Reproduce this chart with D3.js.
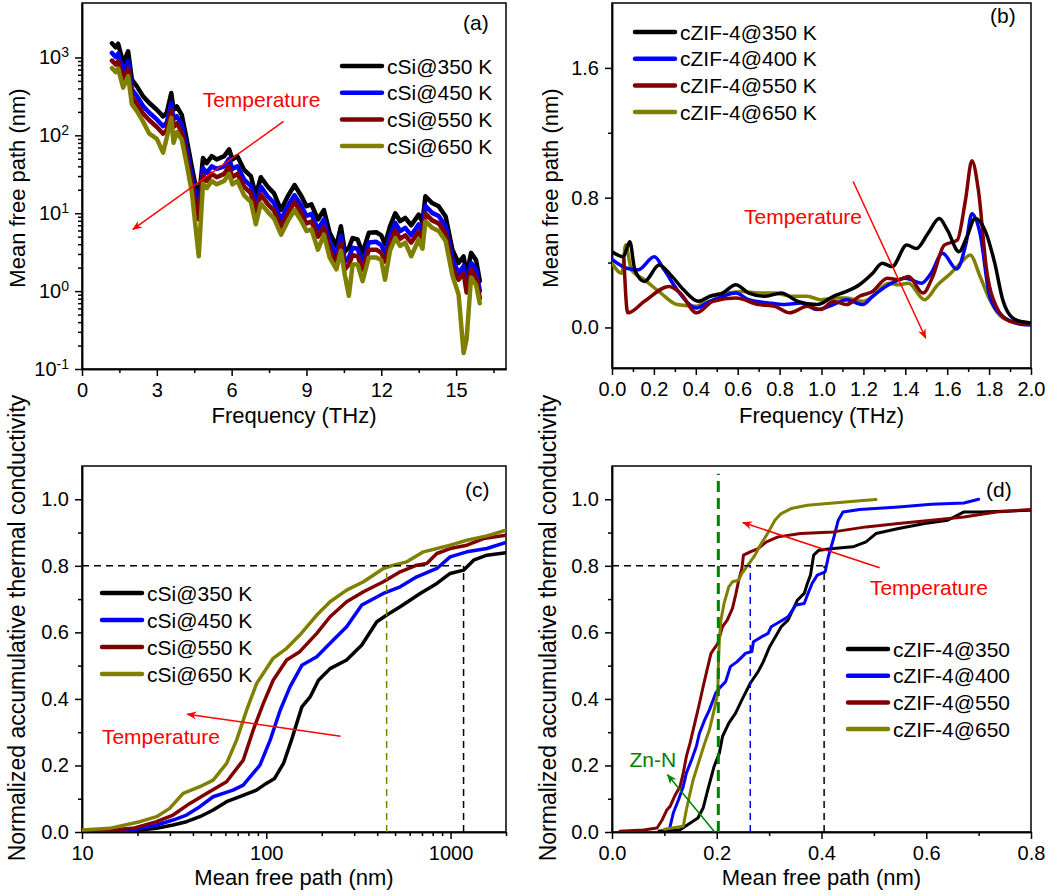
<!DOCTYPE html>
<html>
<head>
<meta charset="utf-8">
<script src="https://cdnjs.cloudflare.com/ajax/libs/d3/7.8.5/d3.min.js"></script>
<style>
  body { margin: 0; background: #fff; }
  svg { display: block; font-family: "Liberation Sans", Arial, sans-serif; }
  .axis path, .axis line { stroke: #000; stroke-width: 1.5; }
  .axis text { font-size: 20px; fill: #000; font-family: "Liberation Sans", Arial, sans-serif; }
  .title { font-size: 22px; fill: #000; }
  .legend text { font-size: 21px; fill: #000; }
  .plabel { font-size: 21px; fill: #000; }
</style>
</head>
<body>
<svg id="chart" width="1064" height="896"></svg>
<script>
// ---- (a) cSi mean free path vs frequency
const freqSi = [1.2, 1.35, 1.45, 1.65, 1.85, 2.0, 2.2, 2.45, 2.7, 3.0,
  3.25, 3.4, 3.58, 3.67, 3.8, 4.0, 4.2, 4.4, 4.68, 4.85,
  5.0, 5.2, 5.4, 5.7, 5.9, 6.03, 6.23, 6.5, 6.77, 6.97,
  7.17, 7.44, 7.7, 7.98, 8.25, 8.52, 8.8, 9.0, 9.2, 9.46,
  9.7, 9.93, 10.2, 10.38, 10.54, 10.7, 10.85, 11.05, 11.25, 11.5,
  11.8, 12.0, 12.15, 12.35, 12.56, 12.76, 12.96, 13.2, 13.5, 13.65,
  13.77, 14.04, 14.3, 14.58, 14.85, 15.1, 15.3, 15.42, 15.6, 15.8, 15.95];
const mfpSi350 = [1520, 1350, 1500, 850, 1200, 520, 425, 316, 260, 213,
  175, 195, 350, 213, 236, 183, 88, 40, 14, 51,
  44, 54, 49, 54, 66, 49, 54, 36, 30, 17,
  29, 22, 18, 11, 16.5, 23, 16.5, 12.3, 13, 8.3,
  11, 5.6, 3.8, 6.8, 3.2, 3.6, 4.8, 4.6, 3.1, 5.6,
  5.7, 5.2, 4.0, 6.8, 10, 7.9, 8.7, 7.0, 9.6, 7.7,
  16.5, 13.5, 12.3, 9.1, 3.4, 2.3, 2.8, 1.6, 3.1, 2.5, 1.35];
const mfpSi450 = [1140, 1010, 1120, 640, 900, 390, 320, 237, 195, 160,
  131, 146, 262, 160, 177, 137, 66, 30, 10.5, 38,
  33, 40, 37, 40, 50, 37, 40, 27, 22.5, 12.8,
  22, 16.5, 13.5, 8.3, 12.4, 17, 12.4, 9.2, 9.8, 6.2,
  8.3, 4.2, 2.9, 5.1, 2.4, 2.7, 3.6, 3.5, 2.3, 4.2,
  4.3, 3.9, 3.0, 5.1, 7.5, 5.9, 6.5, 5.2, 7.2, 5.8,
  12.4, 10.1, 9.2, 6.8, 2.6, 1.7, 2.1, 1.2, 2.3, 1.9, 1.0];
const mfpSi550 = [910, 810, 900, 510, 720, 312, 255, 190, 156, 128,
  105, 117, 210, 128, 142, 110, 53, 24, 8.4, 31,
  26, 32, 29, 32, 40, 29, 32, 22, 18, 10.2,
  17.4, 13.2, 10.8, 6.6, 9.9, 14, 9.9, 7.4, 7.8, 5.0,
  6.6, 3.4, 2.3, 4.1, 1.9, 2.2, 2.9, 2.8, 1.9, 3.4,
  3.4, 3.1, 2.4, 4.1, 6.0, 4.7, 5.2, 4.2, 5.8, 4.6,
  9.9, 8.1, 7.4, 5.5, 2.0, 1.4, 1.7, 0.96, 1.9, 1.5, 0.81];
const mfpSi650 = [730, 650, 720, 410, 575, 250, 204, 150, 105, 90,
  60, 94, 168, 80, 110, 88, 42, 19, 2.8, 24,
  21, 26, 23.5, 26, 32, 23.5, 26, 17, 14, 7.2,
  13.4, 10.5, 8.6, 5.3, 7.9, 11, 7.9, 5.9, 6.2, 3.4,
  5.3, 2.7, 1.9, 3.3, 1.6, 0.87, 2.2, 2.2, 1.34, 2.7,
  2.7, 2.5, 1.4, 3.3, 4.8, 3.8, 4.2, 2.8, 4.6, 3.5,
  7.9, 6.5, 5.9, 4.4, 1.6, 0.9, 0.16, 0.24, 1.5, 1.2, 0.7];

// ---- (b) cZIF-4 mean free path vs frequency
const freqZif350 = [0, 0.054, 0.085, 0.109, 0.155, 0.225, 0.28, 0.342, 0.412, 0.466,
  0.528, 0.591, 0.653, 0.731, 0.808, 0.886, 0.979, 1.057, 1.119, 1.181,
  1.244, 1.29, 1.337, 1.407, 1.453, 1.508, 1.562, 1.601, 1.656, 1.694,
  1.733, 1.78, 1.827, 1.865, 1.912, 1.959, 2.0];
const mfpZif350 = [0.467, 0.436, 0.528, 0.355, 0.283, 0.385, 0.324, 0.232, 0.161, 0.192,
  0.212, 0.263, 0.212, 0.192, 0.212, 0.161, 0.141, 0.192, 0.222, 0.263,
  0.334, 0.396, 0.375, 0.508, 0.487, 0.579, 0.671, 0.6, 0.467, 0.559,
  0.671, 0.6, 0.396, 0.171, 0.059, 0.035, 0.028];
const freqZif400 = [0, 0.07, 0.124, 0.202, 0.249, 0.311, 0.404, 0.466, 0.529, 0.591,
  0.653, 0.746, 0.824, 0.902, 0.979, 1.057, 1.119, 1.197, 1.244, 1.321,
  1.399, 1.477, 1.523, 1.578, 1.645, 1.69, 1.718, 1.757, 1.803, 1.865, 1.959, 2.0];
const mfpZif400 = [0.42, 0.365, 0.355, 0.436, 0.355, 0.232, 0.12, 0.161, 0.192, 0.212,
  0.171, 0.151, 0.141, 0.151, 0.11, 0.141, 0.171, 0.141, 0.192, 0.263,
  0.304, 0.273, 0.334, 0.457, 0.36, 0.52, 0.701, 0.579, 0.192, 0.069, 0.018, 0.015];
const freqZif550 = [0.057, 0.075, 0.155, 0.272, 0.326, 0.404, 0.482, 0.591, 0.7, 0.777,
  0.847, 0.933, 0.995, 1.057, 1.119, 1.181, 1.244, 1.314, 1.368, 1.415,
  1.485, 1.531, 1.586, 1.648, 1.687, 1.718, 1.749, 1.788, 1.834, 1.897, 1.959, 2.0];
const mfpZif550 = [0.42, 0.09, 0.161, 0.253, 0.212, 0.09, 0.161, 0.181, 0.141, 0.13,
  0.09, 0.13, 0.11, 0.161, 0.141, 0.192, 0.222, 0.304, 0.294, 0.314,
  0.212, 0.314, 0.508, 0.538, 0.783, 1.028, 0.844, 0.355, 0.13, 0.039, 0.024, 0.02];
const freqZif650 = [0, 0.047, 0.065, 0.093, 0.155, 0.233, 0.311, 0.404, 0.466, 0.544,
  0.622, 0.7, 0.777, 0.855, 0.933, 0.995, 1.057, 1.119, 1.197, 1.244,
  1.321, 1.368, 1.415, 1.492, 1.555, 1.617, 1.663, 1.71, 1.757, 1.803,
  1.865, 1.959, 2.0];
const mfpZif650 = [0.396, 0.334, 0.508, 0.355, 0.294, 0.212, 0.141, 0.13, 0.192, 0.212,
  0.222, 0.212, 0.212, 0.192, 0.192, 0.171, 0.181, 0.181, 0.161, 0.192,
  0.273, 0.263, 0.273, 0.171, 0.263, 0.334, 0.396, 0.446, 0.314, 0.171,
  0.059, 0.024, 0.02];

// ---- (c) cSi accumulative thermal conductivity
const lamSi350 = [10, 18.9, 25.4, 31.2, 36.9, 43.6, 51.5, 60.9, 71.9, 88.5,
  100, 111, 124, 137, 156, 173, 192, 222, 273, 330,
  398, 451, 533, 684, 843, 995, 1177, 1334, 1575, 2000];
const accSi350 = [0, 0.004, 0.011, 0.021, 0.031, 0.046, 0.066, 0.091, 0.106, 0.126,
  0.146, 0.161, 0.206, 0.276, 0.376, 0.406, 0.456, 0.491, 0.517, 0.562,
  0.632, 0.652, 0.677, 0.717, 0.747, 0.777, 0.787, 0.817, 0.832, 0.839];
const lamSi450 = [10, 18.9, 25.4, 31.2, 36.9, 43.6, 51.5, 66, 75, 92.4,
  105, 119, 134.5, 156, 188, 222, 273, 330, 432, 533,
  656, 843, 995, 1227, 1575, 2000];
const accSi450 = [0, 0.006, 0.021, 0.036, 0.051, 0.076, 0.106, 0.126, 0.141, 0.201,
  0.276, 0.366, 0.436, 0.501, 0.527, 0.567, 0.617, 0.682, 0.717, 0.737,
  0.767, 0.792, 0.827, 0.842, 0.852, 0.87];
const lamSi550 = [10, 18.9, 25.4, 31.2, 38.5, 47.4, 60.9, 75, 84.9, 96.3,
  109, 129, 152, 188, 222, 273, 337, 432, 533, 656,
  743, 843, 995, 1227, 1510, 2000];
const accSi550 = [0, 0.011, 0.031, 0.051, 0.086, 0.116, 0.151, 0.216, 0.306, 0.386,
  0.456, 0.517, 0.542, 0.597, 0.647, 0.692, 0.722, 0.752, 0.782, 0.802,
  0.807, 0.837, 0.852, 0.862, 0.882, 0.892];
const lamSi650 = [10, 14.1, 20.6, 25.4, 29.9, 35.4, 43.6, 51.5, 60.9, 69,
  78.2, 88.6, 109, 129, 152, 188, 222, 273, 337, 432,
  490, 579, 713, 995, 1227, 1575, 2000];
const accSi650 = [0.006, 0.011, 0.031, 0.046, 0.071, 0.116, 0.136, 0.156, 0.206, 0.276,
  0.366, 0.446, 0.522, 0.552, 0.592, 0.652, 0.692, 0.727, 0.752, 0.792,
  0.802, 0.812, 0.842, 0.862, 0.877, 0.89, 0.907];

// ---- (d) cZIF-4 accumulative thermal conductivity
const lamZif350 = [0.09, 0.13, 0.164, 0.174, 0.183, 0.195, 0.205, 0.211, 0.223, 0.236,
  0.248, 0.264, 0.279, 0.289, 0.301, 0.314, 0.323, 0.336, 0.345, 0.354,
  0.367, 0.373, 0.379, 0.385, 0.395, 0.423, 0.46, 0.485, 0.504, 0.547,
  0.597, 0.641, 0.672, 0.703, 0.797, 0.8];
const accZif350 = [0.003, 0.007, 0.042, 0.072, 0.127, 0.197, 0.237, 0.287, 0.327, 0.357,
  0.397, 0.447, 0.482, 0.512, 0.557, 0.592, 0.617, 0.637, 0.667, 0.697,
  0.717, 0.747, 0.772, 0.832, 0.847, 0.852, 0.857, 0.872, 0.897, 0.912,
  0.927, 0.937, 0.962, 0.962, 0.967, 0.967];
const lamZif400 = [0.111, 0.117, 0.127, 0.136, 0.142, 0.152, 0.161, 0.167, 0.177, 0.186,
  0.198, 0.205, 0.217, 0.226, 0.239, 0.255, 0.267, 0.27, 0.286, 0.298,
  0.304, 0.326, 0.336, 0.351, 0.367, 0.373, 0.382, 0.392, 0.407, 0.413,
  0.423, 0.432, 0.441, 0.473, 0.547, 0.61, 0.672, 0.7];
const accZif400 = [0.017, 0.057, 0.097, 0.137, 0.177, 0.217, 0.257, 0.297, 0.337, 0.367,
  0.417, 0.432, 0.452, 0.497, 0.512, 0.537, 0.542, 0.572, 0.587, 0.597,
  0.617, 0.637, 0.647, 0.682, 0.687, 0.712, 0.747, 0.772, 0.782, 0.827,
  0.882, 0.937, 0.962, 0.969, 0.977, 0.985, 0.989, 1.0];
const lamZif550 = [0.015, 0.06, 0.086, 0.096, 0.105, 0.111, 0.121, 0.13, 0.136, 0.142,
  0.149, 0.155, 0.161, 0.167, 0.174, 0.183, 0.189, 0.202, 0.211, 0.22,
  0.23, 0.236, 0.242, 0.248, 0.251, 0.264, 0.279, 0.295, 0.317, 0.36,
  0.423, 0.485, 0.547, 0.61, 0.672, 0.734, 0.797, 0.8];
const accZif550 = [0.002, 0.006, 0.012, 0.037, 0.067, 0.077, 0.112, 0.137, 0.177, 0.227,
  0.267, 0.307, 0.347, 0.387, 0.437, 0.497, 0.537, 0.567, 0.617, 0.637,
  0.672, 0.712, 0.757, 0.792, 0.832, 0.842, 0.852, 0.872, 0.887, 0.897,
  0.902, 0.917, 0.927, 0.937, 0.947, 0.962, 0.969, 0.97];
const lamZif650 = [0.1, 0.136, 0.142, 0.149, 0.155, 0.161, 0.167, 0.177, 0.186, 0.195,
  0.202, 0.203, 0.205, 0.208, 0.214, 0.223, 0.23, 0.242, 0.248, 0.255,
  0.264, 0.273, 0.283, 0.295, 0.304, 0.311, 0.323, 0.342, 0.373, 0.423,
  0.485, 0.504];
const accZif650 = [0.008, 0.017, 0.067, 0.117, 0.157, 0.187, 0.217, 0.267, 0.307, 0.367,
  0.417, 0.497, 0.577, 0.637, 0.687, 0.737, 0.752, 0.757, 0.777, 0.792,
  0.812, 0.832, 0.862, 0.892, 0.917, 0.937, 0.957, 0.972, 0.982, 0.989,
  0.997, 0.999];

const seriesColors = ['#000000', '#0000ff', '#800000', '#808000'];
const labelsSi = ['cSi@350 K', 'cSi@450 K', 'cSi@550 K', 'cSi@650 K'];
const labelsZifB = ['cZIF-4@350 K', 'cZIF-4@400 K', 'cZIF-4@550 K', 'cZIF-4@650 K'];
const labelsZifD = ['cZIF-4@350', 'cZIF-4@400', 'cZIF-4@550', 'cZIF-4@650'];

const ticksFreqA = [0, 3, 6, 9, 12, 15];
const ticksMfpA = [0.1, 1, 10, 100, 1000];
const ticksFreqB = [0, 0.2, 0.4, 0.6, 0.8, 1.0, 1.2, 1.4, 1.6, 1.8, 2.0];
const ticksMfpB = [0, 0.8, 1.6];
const ticksLamC = [10, 100, 1000];
const ticksAcc = [0, 0.2, 0.4, 0.6, 0.8, 1.0];
const ticksLamD = [0, 0.2, 0.4, 0.6, 0.8];

let svg = d3.select('#chart');

let boxes = {
  a: {left: 82, right: 506, top: 3, bottom: 369},
  b: {left: 612, right: 1031, top: 3, bottom: 368},
  c: {left: 82, right: 506, top: 466, bottom: 832},
  d: {left: 612, right: 1031, top: 466, bottom: 832}
};

let xA = d3.scaleLinear().domain([0, 17]).range([boxes.a.left, boxes.a.right]);
let yA = d3.scaleLog().domain([0.1, 5000]).range([boxes.a.bottom, boxes.a.top]);
let xB = d3.scaleLinear().domain([0, 2]).range([boxes.b.left, boxes.b.right]);
let yB = d3.scaleLinear().domain([-0.25, 2.0]).range([boxes.b.bottom, boxes.b.top]);
let xC = d3.scaleLog().domain([10, 2000]).range([boxes.c.left, boxes.c.right]);
let yC = d3.scaleLinear().domain([0, 1.1]).range([boxes.c.bottom, boxes.c.top]);
let xD = d3.scaleLinear().domain([0, 0.8]).range([boxes.d.left, boxes.d.right]);
let yD = d3.scaleLinear().domain([0, 1.1]).range([boxes.d.bottom, boxes.d.top]);

// log minor ticks
let logMinor = (lo, hi) => {
  let out = [];
  for (let p = lo; p < hi; p *= 10) {
    for (let k = 2; k <= 9; k++) out.push(p * k);
  }
  return out;
};

let defs = svg.append('defs');
['a', 'b', 'c', 'd'].forEach(k => {
  let b = boxes[k];
  defs.append('clipPath').attr('id', `clip-${k}`)
    .append('rect').attr('x', b.left).attr('y', b.top)
    .attr('width', b.right - b.left).attr('height', b.bottom - b.top);
});
let addMarker = (id, col) => {
  defs.append('marker').attr('id', id)
    .attr('viewBox', '0 0 10 10').attr('refX', 9).attr('refY', 5)
    .attr('markerWidth', 10).attr('markerHeight', 10)
    .attr('markerUnits', 'userSpaceOnUse').attr('orient', 'auto')
    .append('path').attr('d', 'M0,1 L10,5 L0,9 L3,5 z').attr('fill', col);
};
addMarker('arrRed', '#ff0000');
addMarker('arrGreen', '#008000');

let drawAxes = (box, x, y, o) => {
  let g = svg.append('g');
  g.append('g').attr('class', 'axis').attr('transform', `translate(0,${box.bottom})`)
    .call(d3.axisBottom(x).tickValues(o.xMinor).tickSize(4).tickSizeOuter(0).tickFormat(''));
  g.append('g').attr('class', 'axis').attr('transform', `translate(0,${box.bottom})`)
    .call(d3.axisBottom(x).tickValues(o.xMajor).tickSize(7).tickSizeOuter(0).tickPadding(7).tickFormat(o.xFmt));
  g.append('g').attr('class', 'axis').attr('transform', `translate(${box.left},0)`)
    .call(d3.axisLeft(y).tickValues(o.yMinor).tickSize(4).tickSizeOuter(0).tickFormat(''));
  let ya = g.append('g').attr('class', 'axis').attr('transform', `translate(${box.left},0)`)
    .call(d3.axisLeft(y).tickValues(o.yMajor).tickSize(7).tickSizeOuter(0).tickPadding(6).tickFormat(o.yFmt));
  g.append('rect').attr('x', box.left).attr('y', box.top)
    .attr('width', box.right - box.left).attr('height', box.bottom - box.top)
    .attr('fill', 'none').attr('stroke', '#000').attr('stroke-width', 1.5);
  return ya;
};

let fmt1 = d3.format('.1f');

// axes (a)
let yAxisA = drawAxes(boxes.a, xA, yA, {
  xMajor: ticksFreqA, xMinor: [1.5, 4.5, 7.5, 10.5, 13.5, 16.5], xFmt: d3.format('d'),
  yMajor: ticksMfpA, yMinor: logMinor(0.1, 1000), yFmt: d => '10'
});
yAxisA.selectAll('.tick text').each(function(d) {
  d3.select(this).append('tspan').attr('dy', '-0.5em').style('font-size', '14px')
    .text(Math.round(Math.log10(d)));
});
drawAxes(boxes.b, xB, yB, {
  xMajor: ticksFreqB, xMinor: d3.range(0.1, 2.0, 0.2), xFmt: fmt1,
  yMajor: ticksMfpB, yMinor: [0.4, 1.2], yFmt: fmt1
});
drawAxes(boxes.c, xC, yC, {
  xMajor: ticksLamC, xMinor: logMinor(10, 1000).concat([2000]), xFmt: d3.format('d'),
  yMajor: ticksAcc, yMinor: [0.1, 0.3, 0.5, 0.7, 0.9], yFmt: fmt1
});
drawAxes(boxes.d, xD, yD, {
  xMajor: ticksLamD, xMinor: [0.1, 0.3, 0.5, 0.7], xFmt: fmt1,
  yMajor: ticksAcc, yMinor: [0.1, 0.3, 0.5, 0.7, 0.9], yFmt: fmt1
});

// axis titles
let xTitle = (box, txt, base) => {
  svg.append('text').attr('class', 'title').attr('text-anchor', 'middle')
    .attr('x', (box.left + box.right) / 2).attr('y', base).text(txt);
};
let yTitle = (x, cy, txt, size) => {
  svg.append('text').attr('class', 'title').attr('text-anchor', 'middle')
    .attr('transform', `translate(${x},${cy}) rotate(-90)`)
    .style('font-size', size + 'px').text(txt);
};
xTitle(boxes.a, 'Frequency (THz)', 423);
xTitle(boxes.b, 'Frequency (THz)', 423);
xTitle(boxes.c, 'Mean free path (nm)', 885);
xTitle(boxes.d, 'Mean free path (nm)', 885);
yTitle(25, 188, 'Mean free path (nm)', 22);
yTitle(558, 188, 'Mean free path (nm)', 22);
yTitle(25, 628, 'Normalized accumulative thermal conductivity', 23);
yTitle(556, 628, 'Normalized accumulative thermal conductivity', 23);

// data lines
let drawSeries = (key, x, y, xs, ys, col, w, curve) => {
  let line = d3.line().x(d => x(d[0])).y(d => y(d[1])).curve(curve || d3.curveLinear);
  svg.append('path').datum(d3.zip(xs, ys))
    .attr('clip-path', `url(#clip-${key})`)
    .attr('d', line).attr('fill', 'none').attr('stroke', col)
    .attr('stroke-width', w).attr('stroke-linejoin', 'round').attr('stroke-linecap', 'round');
};

[mfpSi350, mfpSi450, mfpSi550, mfpSi650].forEach((s, i) => {
  drawSeries('a', xA, yA, freqSi, s, seriesColors[i], 4.5);
});

let bSeries = [[freqZif650, mfpZif650, 3], [freqZif400, mfpZif400, 1], [freqZif550, mfpZif550, 2], [freqZif350, mfpZif350, 0]];
bSeries.forEach(s => drawSeries('b', xB, yB, s[0], s[1], seriesColors[s[2]], 3.5, d3.curveMonotoneX));

[[lamSi350, accSi350], [lamSi450, accSi450], [lamSi550, accSi550], [lamSi650, accSi650]].forEach((s, i) => {
  drawSeries('c', xC, yC, s[0], s[1], seriesColors[i], 3.5);
});

// reference dashed lines
let dash = (x1, y1, x2, y2, col, w, pattern) => {
  svg.append('line').attr('x1', x1).attr('y1', y1).attr('x2', x2).attr('y2', y2)
    .attr('stroke', col).attr('stroke-width', w).attr('stroke-dasharray', pattern);
};
dash(xC(10), yC(0.8), xC(1177), yC(0.8), '#000', 1.5, '7,5');
dash(xC(1177), yC(0), xC(1177), yC(0.8), '#000', 1.5, '7,5');
dash(xC(450), yC(0), xC(450), yC(0.8), '#808000', 1.5, '7,5');

[[lamZif350, accZif350], [lamZif400, accZif400], [lamZif550, accZif550], [lamZif650, accZif650]].forEach((s, i) => {
  drawSeries('d', xD, yD, s[0], s[1], seriesColors[i], 3);
});
dash(xD(0), yD(0.8), xD(0.405), yD(0.8), '#000', 1.5, '7,5');
dash(xD(0.405), yD(0), xD(0.405), yD(0.8), '#000', 1.5, '7,5');
dash(xD(0.264), yD(0), xD(0.264), yD(0.8), '#0000ff', 1.5, '7,5');
dash(xD(0.203), yD(0), xD(0.203), yD(1.077), '#008000', 3, '11,6');

// legends
let legend = (x0, y0, step, labels) => {
  let g = svg.append('g').attr('class', 'legend');
  labels.forEach((t, i) => {
    let yy = y0 + i * step;
    g.append('line').attr('x1', x0).attr('x2', x0 + 40).attr('y1', yy).attr('y2', yy)
      .attr('stroke', seriesColors[i]).attr('stroke-width', 4.5).attr('stroke-linecap', 'round');
    g.append('text').attr('x', x0 + 45).attr('y', yy).attr('dy', '0.36em').text(t);
  });
};
legend(342, 66, 26.7, labelsSi);
legend(635, 32, 26.7, labelsZifB);
legend(102, 593, 27, labelsSi);
legend(848, 649, 26.7, labelsZifD);

// panel labels
let plabel = (x, y, t) => svg.append('text').attr('class', 'plabel').attr('x', x).attr('y', y).text(t);
plabel(463, 30, '(a)');
plabel(990, 23, '(b)');
plabel(465, 497, '(c)');
plabel(986, 497, '(d)');

// annotations
let arrow = (x1, y1, x2, y2, col, marker) => {
  svg.append('line').attr('x1', x1).attr('y1', y1).attr('x2', x2).attr('y2', y2)
    .attr('stroke', col).attr('stroke-width', 1.5).attr('marker-end', `url(#${marker})`);
};
let note = (x, y, t, col) => {
  svg.append('text').attr('x', x).attr('y', y).attr('dy', '0.36em')
    .attr('text-anchor', 'middle').style('font-size', '21px').attr('fill', col).text(t);
};
note(xA(7.2), yA(290), 'Temperature', '#ff0000');
arrow(xA(8.08), yA(151), xA(2.04), yA(6.2), '#ff0000', 'arrRed');
note(xB(0.912), yB(0.685), 'Temperature', '#ff0000');
arrow(xB(1.151), yB(0.9), xB(1.497), yB(-0.065), '#ff0000', 'arrRed');
note(xC(26.8), yC(0.288), 'Temperature', '#ff0000');
arrow(xC(253), yC(0.288), xC(37.3), yC(0.354), '#ff0000', 'arrRed');
note(xD(0.605), yD(0.734), 'Temperature', '#ff0000');
arrow(xD(0.511), yD(0.794), xD(0.25), yD(0.93), '#ff0000', 'arrRed');
note(xD(0.078), yD(0.217), 'Zn-N', '#008000');
arrow(xD(0.196), yD(0), xD(0.106), yD(0.172), '#008000', 'arrGreen');
</script>
</body>
</html>
